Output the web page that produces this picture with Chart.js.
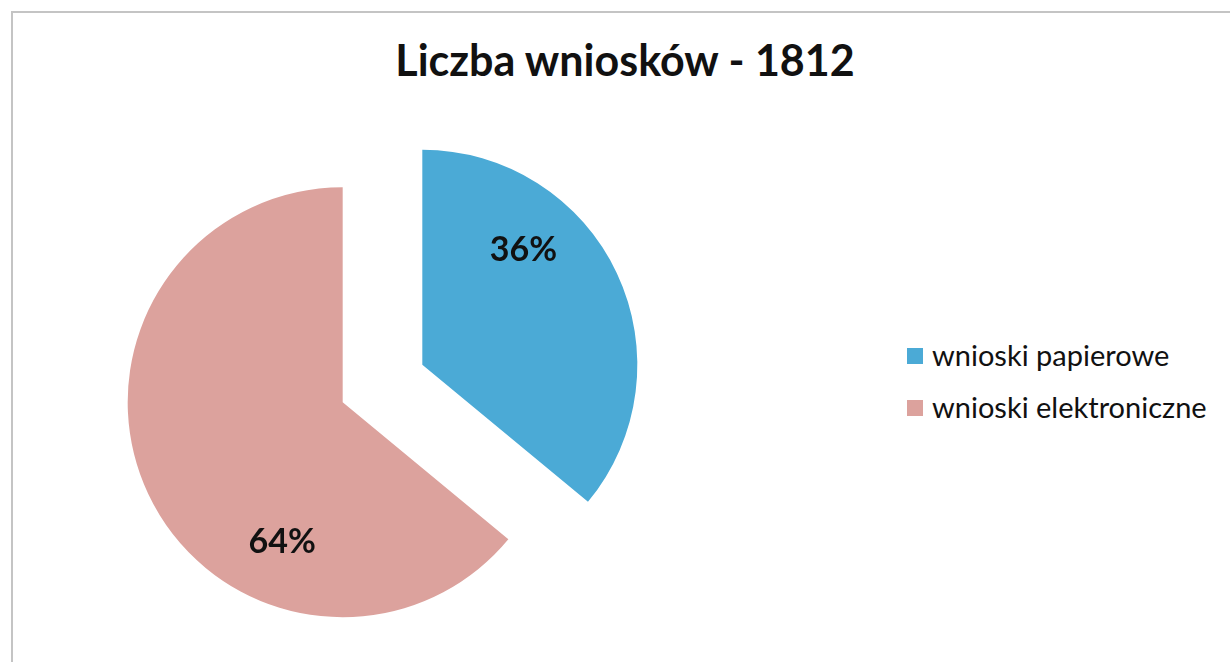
<!DOCTYPE html>
<html lang="pl">
<head>
<meta charset="utf-8">
<title>Liczba wniosków - 1812</title>
<script src="https://cdn.jsdelivr.net/npm/chart.js@4.4.1/dist/chart.umd.min.js"></script>
<style>
  html, body { margin: 0; padding: 0; background: #fff; }
  body { width: 1230px; height: 662px; position: relative; overflow: hidden; font-family: Lato, "Noto Sans", sans-serif; }
  #ramka { position: absolute; left: 11px; top: 11px; width: 2000px; height: 800px; border-left: 2px solid #c4c4c4; border-top: 2px solid #c4c4c4; }
  #tytul { position: absolute; left: 0; width: 1250px; top: 34px; text-align: center; font-size: 43px; font-weight: bold; color: #111; }
  #wykres { position: absolute; left: 0; top: 106px; }
  #legenda { position: absolute; left: 907px; top: 328px; }
  .poz { display: flex; align-items: center; height: 52px; font-size: 29px; color: #111; }
  .kw { width: 16px; height: 16px; margin-right: 9px; margin-top: 3px; }
</style>
</head>
<body>
<div id="ramka"></div>
<div id="tytul">Liczba wniosków - 1812</div>
<canvas id="wykres" width="765" height="555"></canvas>
<div id="legenda"></div>
<script>
// dane
const kategorie = ['wnioski papierowe', 'wnioski elektroniczne'];
const udzialy = [36, 64];
const kolory = ['#4BAAD6', '#DCA29D'];

// legenda (html, z tych samych tablic)
const legenda = document.getElementById('legenda');
kategorie.forEach((k, i) => {
    const poz = document.createElement('div');
    poz.className = 'poz';
    poz.innerHTML = `<span class="kw" style="background:${kolory[i]}"></span><span>${k}</span>`;
    legenda.appendChild(poz);
});

// rozsuniecie wycinkow - przesuwamy kazdy luk wzdluz dwusiecznej
const rozsun = {
    id: 'rozsun',
    afterDatasetsUpdate(chart, args, opts) {
        chart.getDatasetMeta(0).data.forEach(arc => {
            const srodek = (arc.startAngle + arc.endAngle) / 2;
            arc.x += Math.cos(srodek) * opts.dist;
            arc.y += Math.sin(srodek) * opts.dist;
        });
    }
};

// etykiety procentowe wewnatrz wycinkow
const etykiety = {
    id: 'etykiety',
    afterDatasetsDraw(chart, args, opts) {
        const ctx = chart.ctx;
        const dane = chart.data.datasets[0].data;
        ctx.save();
        ctx.font = 'bold 34px Lato, "Noto Sans", sans-serif';
        ctx.fillStyle = '#111';
        ctx.textAlign = 'center';
        ctx.textBaseline = 'middle';
        chart.getDatasetMeta(0).data.forEach((arc, i) => {
            const a = arc.startAngle + (arc.endAngle - arc.startAngle) * opts.frac;
            const r = arc.outerRadius * opts.r;
            ctx.fillText(dane[i] + '%', arc.x + Math.cos(a) * r, arc.y + Math.sin(a) * r);
        });
        ctx.restore();
    }
};

new Chart(document.getElementById('wykres'), {
    type: 'pie',
    data: {
        labels: kategorie,
        datasets: [{
            data: udzialy,
            backgroundColor: kolory,
            borderWidth: 0
        }]
    },
    options: {
        responsive: false,
        animation: false,
        radius: 215,
        layout: { padding: 0 },
        plugins: {
            legend: { display: false },
            tooltip: { enabled: false },
            rozsun: { dist: 44 },
            etykiety: { frac: 0.32, r: 0.71 }
        }
    },
    plugins: [rozsun, etykiety]
});
</script>
</body>
</html>
